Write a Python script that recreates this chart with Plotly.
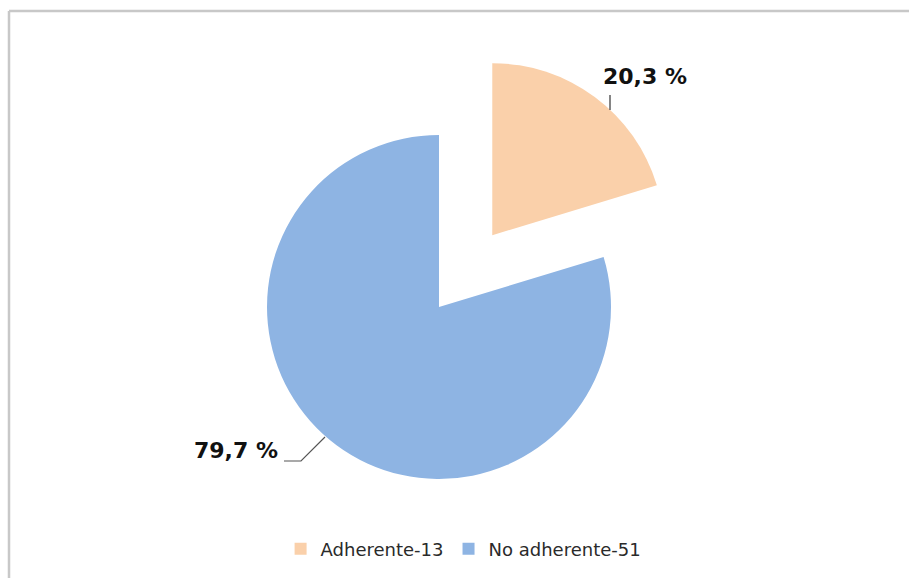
import plotly.graph_objects as go

# ---- data ----
categories = ["Adherente-13", "No adherente-51"]
values = [13, 51]
colors = ["#FAD0AA", "#8EB4E3"]

W, H = 909, 578
total = sum(values)
pct_labels = [f"{v / total * 100:.1f} %".replace(".", ",") for v in values]


def px(x):
    return x / W


def py(y):
    return 1 - y / H


# pie geometry (pixels)
cx, cy, r, pull = 439, 307, 172, 0.52
half = r * (1 + pull)

fig = go.Figure(
    go.Pie(
        labels=categories,
        values=values,
        marker=dict(colors=colors, line=dict(width=0)),
        pull=[pull, 0],
        sort=False,
        direction="clockwise",
        rotation=0,
        textinfo="none",
        hoverinfo="label+percent",
        domain=dict(x=[px(cx - half), px(cx + half)],
                    y=[py(cy + half), py(cy - half)]),
    )
)

fig.update_layout(
    width=W,
    height=H,
    margin=dict(l=0, r=0, t=0, b=0),
    paper_bgcolor="white",
    font=dict(family="DejaVu Sans", color="#222222"),
    showlegend=True,
    legend=dict(
        orientation="h",
        x=0.51,
        xanchor="center",
        y=py(549),
        yanchor="middle",
        font=dict(size=18, color="#2a2a2a", family="DejaVu Sans"),
        itemclick=False,
    ),
    annotations=[
        dict(text=f"<b>{pct_labels[0]}</b>", x=px(645), y=py(76), xref="paper", yref="paper",
             xanchor="center", yanchor="middle",
             showarrow=False, font=dict(size=22, color="#111111")),
        dict(text=f"<b>{pct_labels[1]}</b>", x=px(236), y=py(450), xref="paper", yref="paper",
             xanchor="center", yanchor="middle",
             showarrow=False, font=dict(size=22, color="#111111")),
    ],
    shapes=[
        # chart border (top and left visible)
        dict(type="line", xref="paper", yref="paper", x0=px(9), x1=1.05, y0=py(11), y1=py(11),
             line=dict(color="#C8C8C8", width=2.5)),
        dict(type="line", xref="paper", yref="paper", x0=px(9), x1=px(9), y0=py(11), y1=-0.05,
             line=dict(color="#C8C8C8", width=2.5)),
        # leader lines
        dict(type="path", xref="paper", yref="paper",
             path=f"M {px(610)},{py(95)} L {px(610)},{py(110)}",
             line=dict(color="#333333", width=1.2)),
        dict(type="path", xref="paper", yref="paper",
             path=f"M {px(284)},{py(461)} L {px(301)},{py(461)} L {px(325)},{py(437)}",
             line=dict(color="#555555", width=1.2)),
    ],
)

fig.write_html(
    "out.html",
    config={"displayModeBar": False},
    post_script="document.body.style.margin='0';document.body.style.overflow='hidden';",
)
